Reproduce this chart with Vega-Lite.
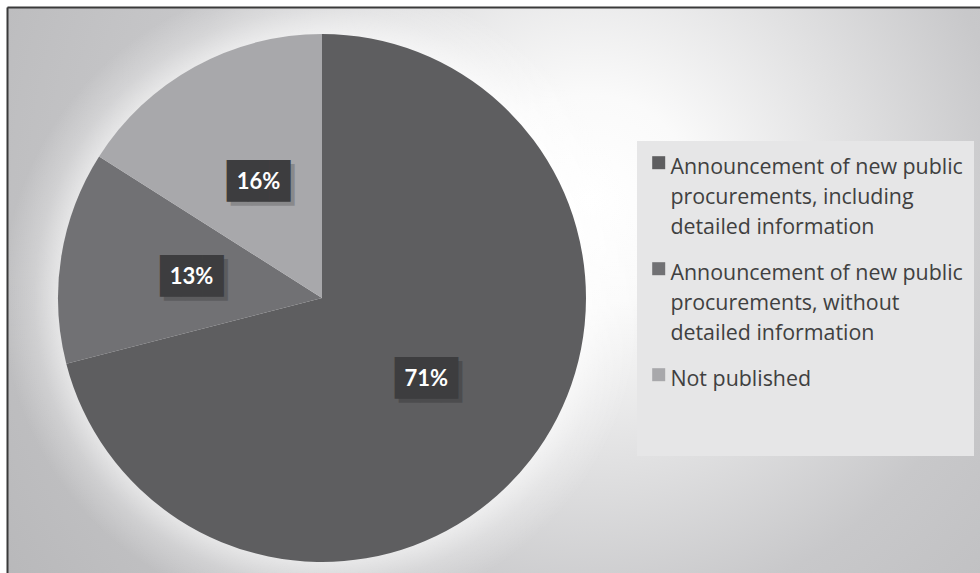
{
  "$schema": "https://vega.github.io/schema/vega-lite/v6.json",
  "width": 973,
  "height": 566,
  "autosize": "none",
  "padding": {"left": 7, "top": 7, "right": 0, "bottom": 0},
  "background": "#ffffff",
  "config": {
    "view": {"stroke": null},
    "style": {"guide-label": {"lineHeight": 30, "dy": -6}}
  },
  "resolve": {"scale": {"theta": "independent"}},
  "datasets": {
    "shares": [
      {"category": "Announcement of new public procurements, including detailed information", "share": 71, "label": "71%", "order": 1},
      {"category": "Announcement of new public procurements, without detailed information", "share": 13, "label": "13%", "order": 2},
      {"category": "Not published", "share": 16, "label": "16%", "order": 3}
    ],
    "frame": [{"part": "frame", "whole": 1}]
  },
  "layer": [
    {
      "data": {"name": "frame"},
      "mark": {
        "type": "arc", "x": 583, "y": 193, "outerRadius": 700, "clip": true,
        "fill": {"gradient": "radial", "x1": 0.5, "y1": 0.5, "r1": 0, "x2": 0.5, "y2": 0.5, "r2": 0.5,
          "stops": [{"offset": 0, "color": "#ffffff"}, {"offset": 0.15, "color": "#fafafa"}, {"offset": 0.6, "color": "#c8c8ca"}, {"offset": 1, "color": "#b8b8ba"}]}
      },
      "encoding": {"theta": {"field": "whole", "type": "quantitative"}}
    },
    {
      "data": {"name": "frame"},
      "mark": {
        "type": "arc", "x": 315, "y": 291, "outerRadius": 320, "clip": true,
        "fill": {"gradient": "radial", "x1": 0.5, "y1": 0.5, "r1": 0, "x2": 0.5, "y2": 0.5, "r2": 0.5,
          "stops": [{"offset": 0, "color": "rgba(255,255,255,0.6)"}, {"offset": 0.82, "color": "rgba(255,255,255,0.6)"}, {"offset": 0.9, "color": "rgba(255,255,255,0.25)"}, {"offset": 1, "color": "rgba(255,255,255,0)"}]}
      },
      "encoding": {"theta": {"field": "whole", "type": "quantitative"}}
    },
    {
      "data": {"name": "frame"},
      "mark": {"type": "point", "opacity": 0},
      "encoding": {
        "x": {"field": "whole", "type": "quantitative", "axis": {"orient": "top", "zindex": 2, "domain": true, "domainColor": "#3a3a3a", "domainWidth": 2, "ticks": false, "labels": false, "grid": false, "title": null}},
        "y": {"field": "whole", "type": "quantitative", "axis": {"orient": "left", "zindex": 2, "domain": true, "domainColor": "#3a3a3a", "domainWidth": 2, "ticks": false, "labels": false, "grid": false, "title": null}}
      }
    },
    {
      "data": {"name": "shares"},
      "mark": {"type": "arc", "outerRadius": 264, "x": 315, "y": 291, "strokeWidth": 0},
      "encoding": {
        "theta": {"field": "share", "type": "quantitative", "stack": true},
        "order": {"field": "order", "type": "quantitative"},
        "color": {
          "field": "category", "type": "nominal",
          "scale": {
            "domain": ["Announcement of new public procurements, including detailed information", "Announcement of new public procurements, without detailed information", "Not published"],
            "range": ["#5e5e60", "#717174", "#a8a8ab"]
          },
          "legend": {
            "title": " ",
            "titleOrient": "bottom",
            "titleFontSize": 20,
            "titlePadding": 35,
            "orient": "none",
            "legendX": 630,
            "legendY": 134,
            "padding": 11,
            "fillColor": "#e6e6e7",
            "symbolType": "square",
            "symbolSize": 169,
            "symbolStrokeWidth": 0,
            "symbolOpacity": 1,
            "labelFont": "Open Sans",
            "labelFontSize": 21.4,
            "labelColor": "#404040",
            "labelOffset": 1,
            "labelLimit": 400,
            "labelBaseline": "top",
            "rowPadding": 19,
            "labelExpr": "datum.label == 'Not published' ? ['Not published'] : (indexof(datum.label, 'including') >= 0 ? ['Announcement of new public', 'procurements, including', 'detailed information'] : ['Announcement of new public', 'procurements, without', 'detailed information'])"
          }
        }
      }
    },
    {
      "data": {"name": "shares"},
      "mark": {"type": "text", "x": 315, "y": 291, "radius": 132, "dx": 4, "dy": 4, "font": "DejaVu Sans Mono", "fontSize": 35, "text": "███", "fill": "#000000", "opacity": 0.18, "baseline": "middle"},
      "encoding": {
        "theta": {"field": "share", "type": "quantitative", "stack": true},
        "order": {"field": "order", "type": "quantitative"}
      }
    },
    {
      "data": {"name": "shares"},
      "mark": {"type": "text", "x": 315, "y": 291, "radius": 132, "font": "DejaVu Sans Mono", "fontSize": 35, "text": "███", "fill": "#3d3d3f", "baseline": "middle"},
      "encoding": {
        "theta": {"field": "share", "type": "quantitative", "stack": true},
        "order": {"field": "order", "type": "quantitative"}
      }
    },
    {
      "data": {"name": "shares"},
      "mark": {"type": "text", "x": 315, "y": 291, "radius": 132, "font": "Lato", "fontSize": 22, "fontWeight": "bold", "fill": "#ffffff", "baseline": "middle"},
      "encoding": {
        "theta": {"field": "share", "type": "quantitative", "stack": true},
        "order": {"field": "order", "type": "quantitative"},
        "text": {"field": "label", "type": "nominal"}
      }
    }
  ]
}
